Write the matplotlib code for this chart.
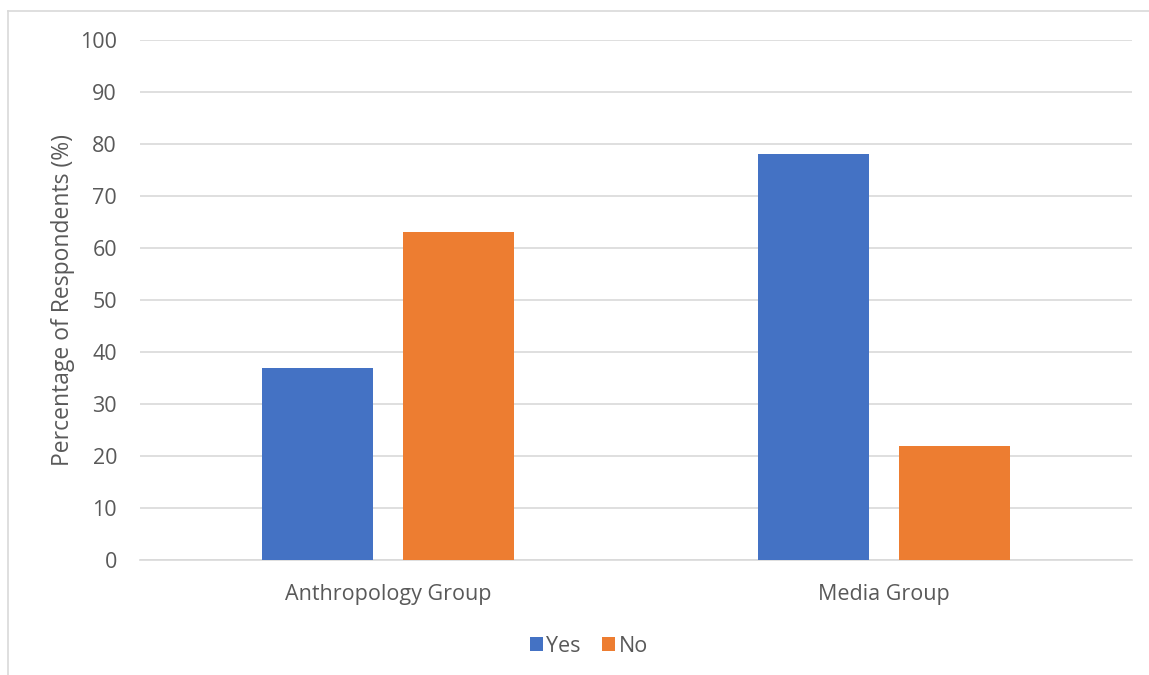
import numpy as np
import matplotlib.pyplot as plt
from matplotlib.lines import Line2D

# data
groups = ['Anthropology Group', 'Media Group']
yes_pct = [37, 78]
no_pct = [63, 22]
series_names = ['Yes', 'No']

blue = '#4472C4'
orange = '#ED7D31'
txt = '#595959'

plt.rcParams['font.family'] = ['Open Sans', 'DejaVu Sans']

fig = plt.figure(figsize=(11.49, 6.75), dpi=100)
ax = fig.add_axes([140/1149, 1 - 560/675, 992/1149, 520/675])

x = np.arange(len(groups))
w = 0.224
ax.bar(x - 0.142, yes_pct, w, color=blue, label=series_names[0], zorder=3)
ax.bar(x + 0.142, no_pct, w, color=orange, label=series_names[1], zorder=3)

ax.set_xlim(-0.5, 1.5)
ax.set_ylim(0, 100)
ax.set_yticks(range(0, 101, 10))
ax.set_xticks(x)
ax.set_xticklabels(groups)
ax.yaxis.grid(True, color='#D9D9D9', linewidth=1.2, zorder=0)
ax.set_axisbelow(True)
for s in ['top', 'right', 'left']:
    ax.spines[s].set_visible(False)
ax.spines['bottom'].set_color('#D9D9D9')
ax.spines['bottom'].set_linewidth(1.2)
ax.tick_params(axis='both', length=0, colors=txt, labelsize=15.5)
ax.tick_params(axis='y', pad=16.5)
ax.tick_params(axis='x', pad=17)
ax.set_ylabel('Percentage of Respondents (%)', fontsize=16.5, color=txt, labelpad=4)

leg = fig.legend(loc='center', bbox_to_anchor=(589/1149, 1 - 646/675), ncol=2,
                 frameon=False, fontsize=15.5, handlelength=0.6, handleheight=0.6,
                 handletextpad=0.15, columnspacing=1.0)
for t in leg.get_texts():
    t.set_color(txt)

# outer chart border (left and top visible)
fig.add_artist(Line2D([8/1149, 8/1149], [0, 1 - 11/675], transform=fig.transFigure, color='#D9D9D9', lw=1.2))
fig.add_artist(Line2D([8/1149, 1], [1 - 11/675, 1 - 11/675], transform=fig.transFigure, color='#D9D9D9', lw=1.2))

fig.savefig('out.png', dpi=100)
